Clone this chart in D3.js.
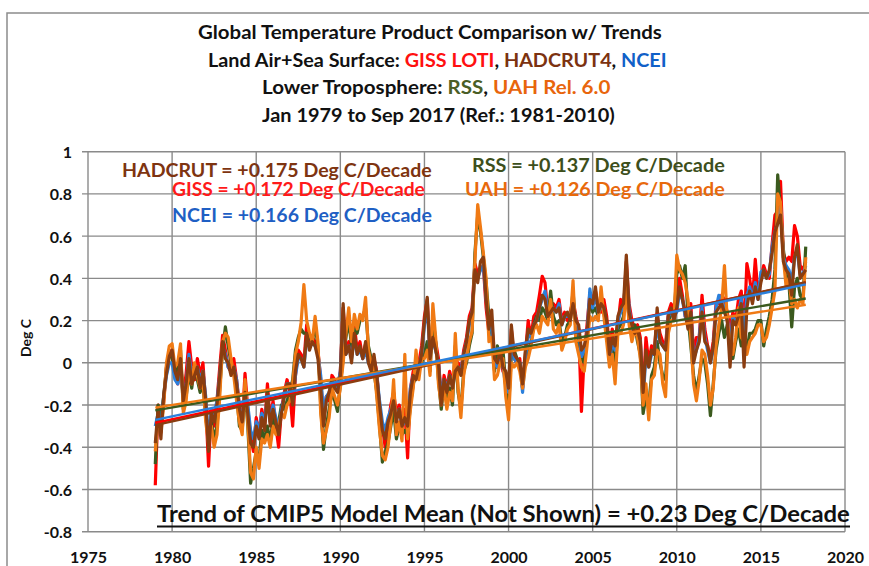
<!DOCTYPE html>
<meta charset="utf-8">
<style>
    body {
        margin: 0;
        background: #fff;
    }
    svg {
        display: block;
        font-family: Lato, "Open Sans", sans-serif;
        font-weight: bold;
    }
</style>

<body>
<svg id="chart" width="869" height="566"></svg>
<script src="https://cdnjs.cloudflare.com/ajax/libs/d3/7.8.5/d3.min.js"></script>
<script>
    // readings taken every second month (Jan, Mar, May, Jul, Sep, Nov), Jan 1979 .. Sep 2017
    var startYear = 1979,
        stepMonths = 2;

    var gissVals = [
        -0.58, -0.20, -0.30, -0.18, -0.02, 0.06,
        0.04, -0.06, -0.10, 0.00, -0.16, -0.05,
        0.10, -0.02, -0.08, 0.02, -0.06, 0.00,
        -0.20, -0.49, -0.22, -0.30, -0.18, -0.02,
        0.13, 0.06, -0.02, -0.04, 0.02, -0.08,
        -0.20, -0.30, -0.05, -0.22, -0.35, -0.42,
        -0.26, -0.34, -0.22, -0.30, -0.10, -0.28,
        -0.18, -0.30, -0.40, -0.22, -0.14, -0.08,
        -0.14, -0.30, -0.06, 0.06, 0.04, 0.00,
        0.18, 0.10, 0.12, 0.10, 0.06, -0.08,
        -0.28, -0.16, -0.18, -0.06, -0.08, -0.12,
        -0.04, 0.26, 0.06, 0.10, 0.04, 0.18,
        0.06, 0.10, 0.02, 0.09, 0.04, -0.02,
        0.02, -0.04, -0.22, -0.30, -0.40, -0.30,
        -0.20, -0.14, -0.24, -0.20, -0.28, -0.22,
        -0.45, -0.12, -0.04, -0.06, 0.00, 0.08,
        0.22, 0.30, 0.04, 0.14, 0.10, 0.02,
        -0.18, -0.06, -0.12, -0.04, -0.10, -0.02,
        0.00, -0.04, 0.06, 0.12, 0.22, 0.26,
        0.47, 0.42, 0.44, 0.46, 0.26, 0.14,
        0.20, -0.02, -0.02, 0.04, -0.04, -0.06,
        -0.20, 0.16, 0.02, 0.00, 0.02, -0.12,
        0.04, 0.20, 0.12, 0.22, 0.24, 0.32,
        0.41, 0.38, 0.24, 0.22, 0.28, 0.26,
        0.30, 0.20, 0.24, 0.20, 0.24, 0.30,
        0.22, 0.16, -0.23, 0.04, 0.18, 0.33,
        0.30, 0.34, 0.26, 0.24, 0.30, 0.22,
        0.06, 0.16, 0.04, 0.18, 0.30, 0.24,
        0.48, 0.28, 0.20, 0.16, 0.18, 0.12,
        -0.16, 0.12, 0.00, 0.08, 0.06, 0.22,
        0.14, 0.10, 0.08, 0.24, 0.28, 0.24,
        0.28, 0.40, 0.32, 0.22, 0.18, 0.28,
        0.04, 0.12, 0.12, 0.32, 0.16, 0.08,
        0.02, 0.10, 0.28, 0.28, 0.32, 0.30,
        0.24, 0.16, 0.24, 0.20, 0.30, 0.34,
        0.14, 0.47, 0.40, 0.30, 0.49, 0.32,
        0.40, 0.46, 0.42, 0.40, 0.56, 0.70,
        0.72, 0.86, 0.52, 0.48, 0.50, 0.48,
        0.65, 0.60, 0.46, 0.44, 0.48
    ];

    var hadcrutVals = [
        -0.38, -0.22, -0.36, -0.15, -0.05, 0.03,
        0.06, -0.04, -0.08, 0.02, -0.18, -0.10,
        0.02, -0.10, -0.06, -0.02, -0.12, -0.04,
        -0.18, -0.42, -0.24, -0.28, -0.20, -0.06,
        0.10, 0.02, 0.00, -0.06, -0.02, -0.10,
        -0.22, -0.28, -0.14, -0.24, -0.38, -0.40,
        -0.30, -0.36, -0.26, -0.32, -0.14, -0.30,
        -0.22, -0.28, -0.34, -0.24, -0.16, -0.10,
        -0.10, -0.20, -0.04, 0.04, 0.02, -0.02,
        0.14, 0.06, 0.10, 0.08, 0.02, -0.12,
        -0.30, -0.18, -0.14, -0.08, -0.12, -0.14,
        -0.06, 0.28, 0.04, 0.08, 0.00, 0.14,
        0.04, 0.08, 0.02, 0.10, 0.00, -0.04,
        0.04, -0.06, -0.20, -0.32, -0.36, -0.28,
        -0.24, -0.18, -0.28, -0.22, -0.30, -0.26,
        -0.30, -0.14, -0.06, -0.08, -0.02, 0.04,
        0.20, 0.31, 0.02, 0.12, 0.06, 0.00,
        -0.20, -0.08, -0.14, -0.06, -0.12, -0.04,
        -0.02, -0.06, 0.04, 0.10, 0.20, 0.24,
        0.44, 0.38, 0.48, 0.50, 0.30, 0.16,
        0.25, 0.02, 0.00, 0.06, -0.02, -0.04,
        -0.12, 0.18, 0.04, 0.02, 0.00, -0.10,
        0.06, 0.16, 0.14, 0.18, 0.20, 0.26,
        0.32, 0.30, 0.22, 0.24, 0.26, 0.24,
        0.26, 0.18, 0.22, 0.24, 0.20, 0.28,
        0.20, 0.18, 0.06, 0.08, 0.14, 0.30,
        0.28, 0.36, 0.24, 0.28, 0.26, 0.20,
        0.04, 0.12, 0.08, 0.22, 0.26, 0.28,
        0.51, 0.24, 0.18, 0.14, 0.16, 0.10,
        -0.14, 0.06, -0.02, 0.06, 0.04, 0.26,
        0.10, 0.08, 0.06, 0.22, 0.26, 0.20,
        0.26, 0.36, 0.30, 0.24, 0.16, 0.24,
        0.00, 0.06, 0.10, 0.24, 0.10, 0.08,
        0.00, 0.08, 0.24, 0.26, 0.28, 0.24,
        0.20, -0.02, 0.20, 0.18, 0.22, 0.28,
        -0.02, 0.26, 0.34, 0.28, 0.36, 0.30,
        0.38, 0.44, 0.40, 0.44, 0.52, 0.62,
        0.66, 0.70, 0.48, 0.44, 0.42, 0.32,
        0.50, 0.56, 0.40, 0.42, 0.44
    ];

    var nceiVals = [
        -0.30, -0.24, -0.30, -0.16, -0.06, 0.00,
        0.00, -0.08, -0.10, -0.04, -0.16, -0.10,
        0.04, -0.06, -0.06, -0.02, -0.08, -0.04,
        -0.16, -0.38, -0.22, -0.24, -0.18, -0.06,
        0.08, 0.04, -0.02, -0.04, -0.02, -0.08,
        -0.22, -0.26, -0.14, -0.20, -0.32, -0.36,
        -0.28, -0.32, -0.24, -0.28, -0.16, -0.28,
        -0.20, -0.26, -0.32, -0.22, -0.16, -0.10,
        -0.10, -0.18, -0.06, 0.02, 0.02, -0.02,
        0.11, 0.08, 0.09, 0.08, 0.04, -0.06,
        -0.24, -0.16, -0.14, -0.08, -0.10, -0.12,
        -0.04, 0.22, 0.04, 0.08, 0.02, 0.12,
        0.04, 0.06, 0.02, 0.06, 0.00, -0.02,
        0.02, -0.06, -0.18, -0.28, -0.32, -0.26,
        -0.22, -0.18, -0.26, -0.22, -0.30, -0.28,
        -0.28, -0.12, -0.06, -0.06, -0.02, 0.04,
        0.18, 0.26, 0.04, 0.10, 0.06, 0.00,
        -0.16, -0.08, -0.12, -0.06, -0.10, -0.04,
        -0.02, -0.04, 0.04, 0.10, 0.18, 0.24,
        0.42, 0.40, 0.44, 0.46, 0.30, 0.18,
        0.16, 0.00, -0.02, 0.04, -0.02, -0.11,
        -0.14, 0.12, 0.02, 0.00, 0.00, -0.14,
        0.02, 0.14, 0.12, 0.18, 0.20, 0.26,
        0.30, 0.34, 0.22, 0.22, 0.26, 0.24,
        0.28, 0.18, 0.22, 0.22, 0.22, 0.28,
        0.20, 0.16, 0.03, 0.06, 0.14, 0.35,
        0.26, 0.32, 0.24, 0.26, 0.26, 0.18,
        0.01, 0.10, 0.06, 0.20, 0.24, 0.26,
        0.44, 0.26, 0.16, 0.14, 0.14, 0.10,
        -0.18, 0.04, -0.02, 0.04, 0.04, 0.18,
        0.10, 0.08, 0.06, 0.22, 0.24, 0.22,
        0.24, 0.34, 0.30, 0.22, 0.18, 0.24,
        0.02, 0.06, 0.12, 0.26, 0.12, 0.06,
        0.00, 0.06, 0.26, 0.32, 0.30, 0.26,
        0.22, 0.08, 0.22, 0.18, 0.24, 0.30,
        0.10, 0.32, 0.36, 0.30, 0.38, 0.30,
        0.43, 0.44, 0.40, 0.42, 0.55, 0.62,
        0.66, 0.74, 0.50, 0.46, 0.44, 0.38,
        0.50, 0.52, 0.42, 0.42, 0.46
    ];

    var rssVals = [
        -0.48, -0.20, -0.26, -0.16, -0.02, 0.05,
        0.02, -0.06, -0.02, 0.06, -0.22, -0.16,
        -0.05, -0.12, -0.02, -0.08, -0.14, -0.10,
        -0.26, -0.34, -0.28, -0.36, -0.30, -0.12,
        0.06, 0.17, 0.08, 0.00, -0.04, -0.14,
        -0.30, -0.32, -0.12, -0.30, -0.57, -0.50,
        -0.42, -0.46, -0.32, -0.36, -0.30, -0.38,
        -0.26, -0.30, -0.28, -0.20, -0.22, -0.18,
        -0.14, -0.08, 0.06, 0.12, 0.16, 0.14,
        0.14, 0.12, 0.10, 0.18, 0.08, -0.20,
        -0.41, -0.30, -0.22, -0.14, -0.18, -0.23,
        -0.10, 0.02, 0.12, 0.20, 0.08, 0.16,
        0.14, 0.20, 0.22, 0.26, 0.08, 0.02,
        -0.04, -0.14, -0.30, -0.47, -0.42, -0.38,
        -0.30, -0.22, -0.36, -0.30, -0.34, -0.32,
        -0.34, -0.20, -0.10, -0.06, -0.04, 0.00,
        0.04, 0.10, -0.04, 0.22, 0.10, -0.08,
        -0.22, -0.10, -0.18, -0.12, -0.20, 0.08,
        -0.14, -0.22, -0.04, 0.00, 0.08, 0.14,
        0.52, 0.70, 0.62, 0.50, 0.38, 0.22,
        0.14, -0.04, 0.08, 0.02, 0.06, -0.10,
        -0.22, 0.04, 0.06, 0.02, 0.00, -0.08,
        0.00, 0.06, 0.10, 0.18, 0.22, 0.20,
        0.26, 0.24, 0.20, 0.34, 0.22, 0.18,
        0.20, 0.10, 0.12, 0.18, 0.20, 0.34,
        0.16, 0.08, 0.02, 0.00, 0.12, 0.30,
        0.24, 0.26, 0.22, 0.32, 0.24, 0.14,
        0.02, 0.08, -0.04, 0.16, 0.18, 0.22,
        0.38, 0.20, 0.14, 0.18, 0.10, 0.04,
        -0.24, -0.16, -0.20, -0.06, -0.02, 0.10,
        0.00, -0.06, -0.08, 0.18, 0.24, 0.22,
        0.42, 0.46, 0.40, 0.46, 0.22, 0.08,
        -0.06, -0.14, -0.06, 0.02, 0.00, -0.10,
        -0.25, -0.10, 0.06, 0.14, 0.20, 0.12,
        0.18, 0.06, 0.02, 0.10, 0.16, 0.08,
        0.12, 0.06, 0.14, 0.14, 0.16, 0.20,
        0.20, 0.08, 0.16, 0.22, 0.30, 0.44,
        0.89, 0.72, 0.54, 0.42, 0.38, 0.17,
        0.36, 0.40, 0.32, 0.30, 0.55
    ];

    var uahVals = [
        -0.42, -0.24, -0.33, -0.20, 0.00, 0.08,
        0.09, -0.02, 0.00, 0.09, -0.24, -0.18,
        -0.02, -0.10, 0.00, -0.06, -0.12, -0.08,
        -0.28, -0.38, -0.30, -0.40, -0.34, -0.16,
        0.10, 0.14, 0.12, 0.02, -0.06, -0.18,
        -0.28, -0.34, -0.08, -0.28, -0.52, -0.55,
        -0.40, -0.50, -0.36, -0.38, -0.34, -0.40,
        -0.30, -0.34, -0.30, -0.24, -0.26, -0.20,
        -0.18, -0.10, 0.04, 0.10, 0.19, 0.37,
        0.20, 0.14, 0.10, 0.22, 0.10, -0.24,
        -0.38, -0.32, -0.26, -0.12, -0.16, -0.20,
        -0.12, 0.00, 0.14, 0.26, 0.10, 0.23,
        0.16, 0.23, 0.20, 0.31, 0.06, 0.00,
        -0.02, -0.16, -0.32, -0.44, -0.46, -0.40,
        -0.28, -0.08, -0.34, -0.28, -0.37, 0.04,
        -0.36, -0.22, -0.12, 0.06, -0.08, 0.02,
        0.02, 0.06, -0.06, 0.28, 0.12, -0.10,
        -0.20, -0.12, -0.22, -0.14, -0.18, 0.14,
        -0.12, -0.26, -0.06, 0.02, 0.10, 0.15,
        0.48, 0.75, 0.64, 0.52, 0.40, 0.10,
        0.12, -0.08, -0.06, 0.00, 0.02, -0.16,
        -0.27, 0.00, -0.02, 0.00, -0.04, -0.12,
        -0.02, 0.02, 0.08, 0.16, 0.18, 0.14,
        0.22, 0.20, 0.18, 0.30, 0.16, 0.14,
        0.18, 0.06, 0.10, 0.16, 0.18, 0.39,
        0.10, 0.04, -0.02, -0.04, 0.08, 0.22,
        0.20, 0.22, 0.20, 0.36, 0.22, 0.10,
        -0.02, 0.04, -0.10, 0.14, 0.14, 0.18,
        0.36, 0.18, 0.10, 0.16, 0.12, 0.02,
        -0.20, -0.10, -0.27, -0.08, -0.06, 0.06,
        0.04, -0.10, -0.16, 0.14, 0.20, 0.20,
        0.51, 0.44, 0.42, 0.38, 0.30, 0.12,
        -0.10, -0.18, -0.08, 0.06, 0.04, -0.06,
        -0.20, -0.12, 0.08, 0.18, 0.26, 0.46,
        0.20, 0.10, 0.04, 0.12, 0.26, 0.12,
        0.10, 0.04, 0.10, 0.12, 0.14, 0.18,
        0.18, 0.10, 0.12, 0.18, 0.26, 0.34,
        0.80, 0.76, 0.50, 0.36, 0.40, 0.28,
        0.30, 0.26, 0.30, 0.28, 0.50
    ];

    // linear trends: slope in deg C per decade, value at Jan 1979
    var trendNames = ["GISS", "HADCRUT", "RSS", "UAH", "NCEI"];
    var trendSlopes = [0.172, 0.175, 0.137, 0.126, 0.166];
    var trendStarts = [-0.285, -0.295, -0.225, -0.212, -0.27];

    var xTicks = [1975, 1980, 1985, 1990, 1995, 2000, 2005, 2010, 2015, 2020];
    var yTicks = [-0.8, -0.6, -0.4, -0.2, 0, 0.2, 0.4, 0.6, 0.8, 1];

    var colors = {
        GISS: "#ff0000",
        HADCRUT: "#8a3d10",
        NCEI: "#2b80dc",
        RSS: "#3b5a1e",
        UAH: "#f07a14"
    };

    // bottom to top, the way the lines overlap in the picture
    var series = [
        { name: "GISS", values: gissVals },
        { name: "RSS", values: rssVals },
        { name: "NCEI", values: nceiVals },
        { name: "UAH", values: uahVals },
        { name: "HADCRUT", values: hadcrutVals }
    ];

    var dates = gissVals.map(function(d, i) {
        return startYear + i * stepMonths / 12;
    });
    var endYear = dates[dates.length - 1];

    var svg = d3.select("#chart");

    var x = d3.scaleLinear().domain([1975, 2020]).range([88, 845]);
    var y = d3.scaleLinear().domain([-0.8, 1]).range([531.7, 151.7]);

    // outer frame of the chart object
    svg.append("rect")
        .attr("x", 7).attr("y", 13)
        .attr("width", 900).attr("height", 620)
        .attr("fill", "none")
        .attr("stroke", "#8c8c8c")
        .attr("stroke-width", 1.5);

    // grid
    var grid = svg.append("g").attr("stroke", "#8a8a8a").attr("stroke-width", 1.4);
    grid.selectAll(".h").data(yTicks).enter().append("line")
        .attr("x1", 82).attr("x2", x(2020))
        .attr("y1", d => y(d)).attr("y2", d => y(d));
    grid.selectAll(".v").data(xTicks).enter().append("line")
        .attr("x1", d => x(d)).attr("x2", d => x(d))
        .attr("y1", y(1)).attr("y2", y(-0.8));

    // axis labels
    var yAxis = d3.axisLeft(y)
        .tickValues(yTicks)
        .tickSize(0)
        .tickPadding(16)
        .tickFormat(d => String(+d.toFixed(1)));
    var gY = svg.append("g").attr("transform", "translate(" + x(1975) + ",0)").call(yAxis);
    gY.select(".domain").remove();
    gY.selectAll("text")
        .attr("font-family", "Lato, sans-serif")
        .attr("font-weight", "bold")
        .attr("font-size", 16)
        .attr("fill", "#111")
        .attr("dy", 6);

    var xAxis = d3.axisBottom(x)
        .tickValues(xTicks)
        .tickSize(0)
        .tickPadding(20)
        .tickFormat(d3.format("d"));
    var gX = svg.append("g").attr("transform", "translate(0," + y(-0.8) + ")").call(xAxis);
    gX.select(".domain").remove();
    gX.selectAll("text")
        .attr("font-family", "Lato, sans-serif")
        .attr("font-weight", "bold")
        .attr("font-size", 16)
        .attr("fill", "#111")
        .attr("y", 31)
        .attr("dy", 0);

    svg.append("text")
        .attr("transform", "translate(31,338) rotate(-90)")
        .attr("text-anchor", "middle")
        .attr("font-size", 14)
        .attr("fill", "#111")
        .text("Deg C");

    // monthly series
    var line = d3.line()
        .x((d, i) => x(dates[i]))
        .y(d => y(d));

    svg.append("g").selectAll("path").data(series).enter().append("path")
        .attr("d", d => line(d.values))
        .attr("fill", "none")
        .attr("stroke", d => colors[d.name])
        .attr("stroke-width", 3.2)
        .attr("stroke-linejoin", "round");

    // trend lines
    svg.append("g").selectAll("line").data(trendNames).enter().append("line")
        .attr("x1", x(startYear))
        .attr("x2", x(endYear))
        .attr("y1", (d, i) => y(trendStarts[i]))
        .attr("y2", (d, i) => y(trendStarts[i] + trendSlopes[i] * (endYear - startYear) / 10))
        .attr("stroke", d => colors[d])
        .attr("stroke-width", 2.4);

    // text placed between a left and right edge, squeezed to fit that width
    function fitText(parts, left, right, baseline, size, weight) {
        var t = svg.append("text")
            .attr("font-size", size)
            .attr("font-weight", weight || "bold");
        parts.forEach(function(p) {
            t.append("tspan").attr("fill", p[1]).text(p[0]);
        });
        var w = t.node().getBBox().width;
        t.attr("transform", "translate(" + left + "," + baseline + ") scale(" + ((right - left) / w) + ",1)");
        return t;
    }

    var black = "#111";
    fitText([["Global Temperature Product Comparison w/ Trends", black]], 198, 662, 39.3, 18.5);
    fitText([
        ["Land Air+Sea Surface: ", black], ["GISS LOTI", "#ff1010"], [", ", black],
        ["HADCRUT4", "#7c3210"], [", ", black], ["NCEI", "#1060c8"]
    ], 208, 667, 66.7, 18.5);
    fitText([["Lower Troposphere: ", black], ["RSS", "#4a5e26"], [", ", black], ["UAH Rel. 6.0", "#e8650c"]],
        262, 611, 94, 18.5);
    fitText([["Jan 1979 to Sep 2017 (Ref.: 1981-2010)", black]], 262, 615, 121.7, 18.5);

    fitText([["HADCRUT = +0.175 Deg C/Decade", "#7e3410"]], 122, 432, 176.7, 19);
    fitText([["GISS = +0.172 Deg C/Decade", "#ff1a1a"]], 172, 425, 196, 19);
    fitText([["NCEI = +0.166 Deg C/Decade", "#1f5fc4"]], 172, 432, 221.7, 19);
    fitText([["RSS = +0.137 Deg C/Decade", "#3d4f1c"]], 472, 725, 171.7, 19);
    fitText([["UAH = +0.126 Deg C/Decade", "#e8690c"]], 465, 725, 196, 19);

    fitText([["Trend of CMIP5 Model Mean (Not Shown) = +0.23 Deg C/Decade", black]], 157, 850, 521.7, 22.5, "bold");
    svg.append("line")
        .attr("x1", 157).attr("x2", 850)
        .attr("y1", 526.5).attr("y2", 526.5)
        .attr("stroke", black)
        .attr("stroke-width", 2);
</script>
</body>
